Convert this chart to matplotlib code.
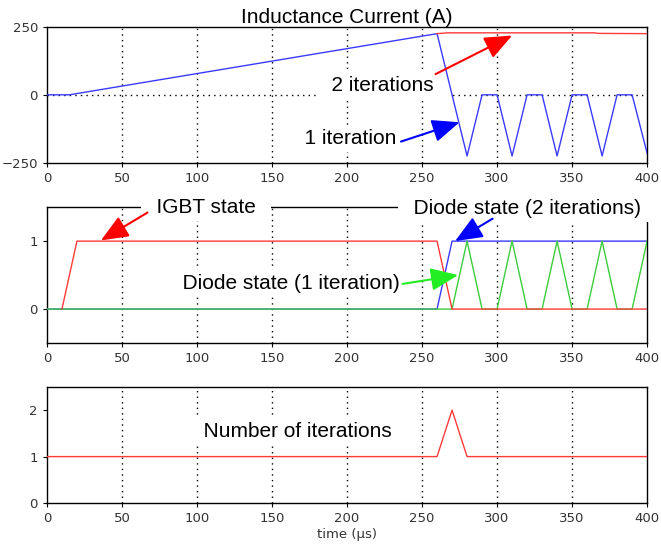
import matplotlib.pyplot as plt

plt.rcParams['font.family'] = ['Liberation Sans', 'DejaVu Sans']

# ---------------------------------------------------------
# data (time in microseconds)
# ---------------------------------------------------------
# inductance current, 1 iteration
t_i1 = [0, 15, 260, 280, 290, 300, 310, 320, 330, 340, 350, 360, 370, 380, 390, 400]
i_1 = [0, 0, 225, -225, 0, 0, -225, 0, 0, -225, 0, 0, -225, 0, 0, -215]
# inductance current, 2 iterations
t_i2 = [260, 267, 365, 367, 400]
i_2 = [225, 228, 228, 226, 225]

# switch states
t_igbt = [10, 20, 260, 270, 400]
igbt = [0, 1, 1, 0, 0]
t_d2 = [0, 260, 270, 400]
diode_2 = [0, 0, 1, 1]
t_d1 = [0, 270, 280, 290, 300, 310, 320, 330, 340, 350, 360, 370, 380, 390, 400]
diode_1 = [0, 0, 1, 0, 0, 1, 0, 0, 1, 0, 0, 1, 0, 0, 1]

# number of iterations
t_n = [0, 260, 270, 280, 400]
n_iter = [1, 1, 2, 1, 1]

x_ticks = [0, 50, 100, 150, 200, 250, 300, 350, 400]

BLUE = '#3a3aff'
RED = '#ff3a3a'
GREEN = '#3ccc3c'
TXT = 15

fig = plt.figure(figsize=(6.61, 5.48), dpi=100)
ax1 = fig.add_axes([0.071, 0.703, 0.908, 0.248])
ax2 = fig.add_axes([0.071, 0.374, 0.908, 0.248])
ax3 = fig.add_axes([0.071, 0.082, 0.908, 0.212])


def style(ax, yticks):
    ax.set_xlim(0, 400)
    ax.set_xticks(x_ticks)
    ax.set_yticks(yticks)
    ax.tick_params(direction='out', length=3, labelsize=9.5, labelcolor='#333333')
    for x in x_ticks[1:-1]:
        ax.axvline(x, color='k', ls=(0, (1, 3)), lw=1, zorder=1)
    for s in ax.spines.values():
        s.set_linewidth(1)


def arrow(ax, text_xy, head_xy, color):
    ax.annotate('', xy=head_xy, xytext=text_xy, zorder=6,
                arrowprops=dict(arrowstyle='-|>,head_length=0.6,head_width=0.25',
                                mutation_scale=28, color=color, lw=1.5,
                                shrinkA=0, shrinkB=0))


def label(ax, x, y, s):
    # white box hides grid lines / frame behind the text, like the original
    ax.text(x, y, '  ' + s + '  ', fontsize=TXT, ha='center', va='center', zorder=3,
            bbox=dict(facecolor='white', edgecolor='none', pad=3))


# ---------------------------------------------------------
# 1. inductance current
# ---------------------------------------------------------
style(ax1, [-250, 0, 250])
ax1.set_ylim(-250, 250)
ax1.axhline(0, color='k', ls=(0, (1, 3)), lw=1, zorder=1)
ax1.plot(t_i1, i_1, color=BLUE, lw=1, zorder=4)
ax1.plot(t_i2, i_2, color=RED, lw=1, zorder=4)
ax1.set_title('Inductance Current (A)', fontsize=TXT, pad=2)
label(ax1, 224, 35, '2 iterations')
arrow(ax1, (259, 76), (310, 218), 'red')
label(ax1, 202, -160, '1 iteration')
arrow(ax1, (236, -172), (275, -101), 'blue')

# ---------------------------------------------------------
# 2. IGBT and diode states
# ---------------------------------------------------------
style(ax2, [0, 1])
ax2.set_ylim(-0.5, 1.5)
ax2.plot(t_d2, diode_2, color=BLUE, lw=1, zorder=4)
ax2.plot(t_d1, diode_1, color=GREEN, lw=1, zorder=4)
ax2.plot(t_igbt, igbt, color=RED, lw=1, zorder=4)
label(ax2, 106, 1.49, 'IGBT state')
arrow(ax2, (67, 1.42), (36, 1.01), 'red')
label(ax2, 320, 1.48, 'Diode state (2 iterations)')
arrow(ax2, (297, 1.33), (272, 1.0), 'blue')
label(ax2, 163, 0.38, 'Diode state (1 iteration)')
arrow(ax2, (237, 0.37), (274, 0.5), '#22ee22')

# ---------------------------------------------------------
# 3. number of iterations
# ---------------------------------------------------------
style(ax3, [0, 1, 2])
ax3.set_ylim(0, 2.5)
ax3.plot(t_n, n_iter, color=RED, lw=1, zorder=4)
label(ax3, 167, 1.55, 'Number of iterations')
ax3.set_xlabel('time (µs)', fontsize=9.5, color='#333333', labelpad=2,
               family='DejaVu Sans')

for ax in (ax1, ax2, ax3):
    for t in ax.get_xticklabels() + ax.get_yticklabels():
        t.set_family('DejaVu Sans')

fig.savefig('out.png', dpi=100)
